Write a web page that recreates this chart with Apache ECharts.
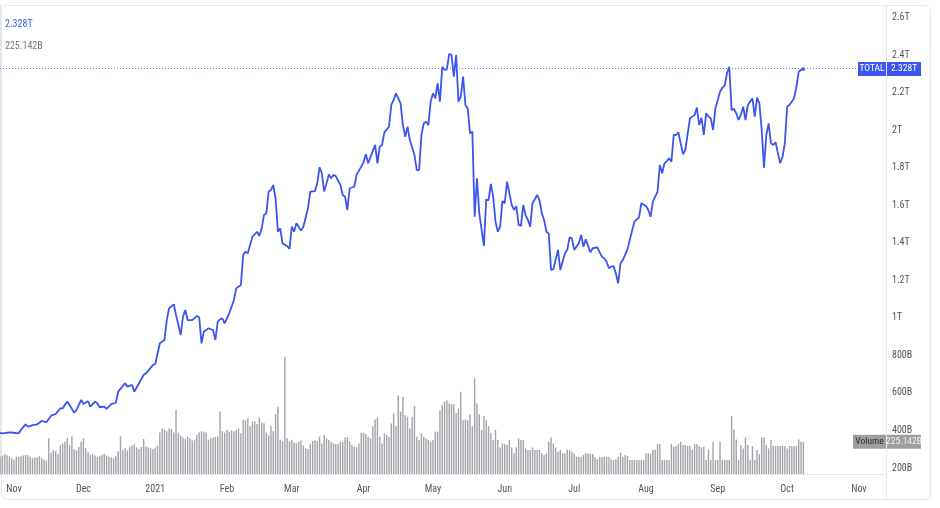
<!DOCTYPE html>
<html><head><meta charset="utf-8">
<script src="https://cdn.jsdelivr.net/npm/echarts@6/dist/echarts.min.js"></script>
<style>html,body{margin:0;padding:0;background:#fff}#c{width:940px;height:508px}</style>
</head><body><div id="c"></div>
<script>
// ---------- data ----------
const START = '2020-10-26';           // day 0 of the series
const seriesName = 'TOTAL';
const volumeName = 'Volume';
// TOTAL market cap (trillions USD), sampled at day offsets from START
const lineDay = [0,1,4,6,8,9,11,12,14,16,18,20,22,24,26,27,29,30,32,33,35,36,38,39,41,42,43,45,46,48,50,51,54,55,57,58,60,62,63,66,67,69,71,72,73,75,76,78,79,80,81,83,85,86,87,88,90,92,93,94,95,96,97,99,101,102,104,105,106,107,109,111,112,113,114,115,116,117,118,119,120,121,122,124,125,126,127,128,130,131,133,134,136,137,138,139,140,141,142,143,144,145,147,148,149,150,151,153,154,156,157,158,159,161,162,163,164,165,166,168,169,170,171,173,174,175,176,177,179,180,181,182,183,184,185,186,187,188,189,190,191,192,193,194,195,196,197,198,199,200,201,202,203,204,205,206,207,209,210,211,212,213,214,215,216,217,218,219,221,222,223,224,225,226,227,228,229,230,232,233,234,235,236,237,238,239,241,242,244,245,246,247,248,250,251,252,253,255,256,258,259,260,261,262,263,264,265,266,267,268,269,271,272,274,276,277,279,280,281,282,284,285,286,287,288,289,290,291,292,293,294,295,296,298,299,300,301,302,303,304,305,306,307,308,309,311,312,313,314,315,316,317,318,319,320,321,322,323,324,325,326,327,328,329,330,331,332,333,334,335,336,337,338,339,340,341,343,344,345,346,347];
const lineVal = [0.388,0.385,0.390,0.388,0.385,0.403,0.433,0.420,0.429,0.433,0.451,0.444,0.479,0.488,0.518,0.518,0.554,0.536,0.495,0.509,0.563,0.541,0.556,0.527,0.554,0.545,0.524,0.527,0.515,0.541,0.548,0.607,0.652,0.634,0.643,0.607,0.652,0.696,0.705,0.749,0.755,0.865,0.883,0.989,1.052,1.073,1.016,0.909,1.007,1.043,0.989,0.989,1.011,1.004,0.865,0.927,0.945,0.936,0.883,0.980,0.993,0.998,0.972,1.025,1.096,1.158,1.176,1.336,1.354,1.345,1.434,1.460,1.437,1.478,1.549,1.558,1.674,1.683,1.709,1.638,1.460,1.478,1.398,1.384,1.368,1.487,1.460,1.505,1.466,1.487,1.585,1.674,1.677,1.718,1.804,1.772,1.674,1.718,1.766,1.745,1.763,1.757,1.709,1.656,1.647,1.576,1.692,1.700,1.763,1.807,1.830,1.873,1.825,1.891,1.923,1.825,1.914,1.923,1.990,2.020,2.136,2.163,2.198,2.145,2.029,1.967,2.020,1.949,1.869,1.789,1.789,1.976,2.038,2.047,2.029,2.154,2.198,2.172,2.252,2.154,2.340,2.323,2.326,2.408,2.403,2.287,2.403,2.154,2.180,2.287,2.136,2.118,1.985,1.994,1.540,1.745,1.558,1.384,1.633,1.629,1.715,1.647,1.514,1.460,1.487,1.624,1.612,1.727,1.603,1.576,1.597,1.496,1.491,1.603,1.549,1.523,1.487,1.612,1.656,1.629,1.558,1.523,1.460,1.452,1.256,1.260,1.363,1.256,1.345,1.363,1.430,1.425,1.363,1.398,1.443,1.380,1.420,1.350,1.372,1.377,1.350,1.327,1.318,1.300,1.265,1.274,1.277,1.238,1.185,1.292,1.309,1.366,1.416,1.514,1.537,1.612,1.597,1.576,1.540,1.620,1.674,1.816,1.772,1.825,1.837,1.852,1.834,1.976,1.976,1.990,1.932,1.873,1.896,2.065,2.074,2.083,2.122,2.029,2.068,1.976,2.092,2.074,2.065,2.003,2.118,2.207,2.228,2.239,2.305,2.340,2.109,2.115,2.092,2.056,2.083,2.127,2.056,2.136,2.154,2.172,2.074,2.175,2.145,2.003,1.802,1.976,2.038,1.932,1.923,1.937,1.878,1.825,1.860,1.932,2.127,2.136,2.172,2.234,2.314,2.323,2.328];
// daily volume (billions USD), one per day from START
const volume = [120,128,140,132,122,112,100,118,120,125,130,
135,132,120,110,115,118,125,110,100,95,
250,150,168,160,140,
200,215,225,255,200,265,
175,165,190,225,250,180,
150,135,140,130,120,125,135,140,130,120,115,110,125,
160,265,170,180,165,190,200,210,185,175,190,
245,190,185,180,175,185,200,
290,320,310,300,320,315,290,
450,290,270,255,245,260,250,235,240,275,290,
300,295,290,240,250,255,260,262,
440,300,290,310,295,305,300,310,320,285,
380,375,390,335,365,370,350,395,
360,355,290,270,335,300,420,
470,240,230,820,250,230,240,220,215,225,235,
200,180,175,210,230,235,230,
261,214,273,249,238,226,214,210,210,226,
226,256,256,226,203,191,186,214,289,289,
280,261,249,335,382,396,261,214,284,273,
261,354,424,335,552,436,540,412,401,319,
401,475,261,238,284,261,249,238,226,238,
296,296,447,482,506,517,494,489,489,429,
459,576,377,382,377,419,335,669,494,419,
308,405,377,335,289,238,308,238,186,214,
210,203,238,186,145,186,249,238,238,179,
168,168,186,168,168,168,145,133,145,226,
256,214,186,156,168,145,145,172,168,156,
145,121,
121,121,133,145,145,140,140,117,103,121,
117,121,121,121,103,98,103,121,149,121,
133,126,98,98,98,98,98,98,98,145,
145,140,168,172,210,210,98,98,98,98,
210,191,196,210,226,203,203,196,196,168,
210,210,196,186,191,98,168,98,226,98,
98,226,98,98,98,98,405,312,242,98,
203,179,256,203,98,196,98,168,140,256,
256,203,179,238,196,196,196,196,196,196,
179,196,196,196,196,242,226,225.142];
const yTicks = [0.2,0.4,0.6,0.8,1.0,1.2,1.4,1.6,1.8,2.0,2.2,2.4,2.6];
const monthTicks = ['2020-11-01','2020-12-01','2021-01-01','2021-02-01','2021-03-01','2021-04-01','2021-05-01','2021-06-01','2021-07-01','2021-08-01','2021-09-01','2021-10-01','2021-11-01'];
const monthNames = ['Jan','Feb','Mar','Apr','May','Jun','Jul','Aug','Sep','Oct','Nov','Dec'];

// ---------- chart ----------
const DAY = 86400000;
const t0 = Date.parse(START + 'T00:00:00Z');
const toDay = s => Math.round((Date.parse(s + 'T00:00:00Z') - t0) / DAY);
const lineData = lineDay.map((d, k) => [d, lineVal[k]]);
const volData = volume.map((v, k) => [k, v]);
const lastVal = lineVal[lineVal.length - 1];
const lastVol = volume[volume.length - 1];
const lastDay = lineDay[lineDay.length - 1];
const FONT = "'Liberation Sans Narrow','Roboto Condensed','Liberation Sans',sans-serif";
const BLUE = '#3b55ee';

function fmtT(v) {
  if (v >= 1) return (Math.round(v * 1000) / 1000).toString() + 'T';
  return Math.round(v * 1000) + 'B';
}
function fmtDay(d) {
  const dt = new Date(t0 + Math.round(d) * DAY);
  return dt.getUTCMonth() === 0 ? String(dt.getUTCFullYear()) : monthNames[dt.getUTCMonth()];
}

const chart = echarts.init(document.getElementById('c'), null, {renderer: 'canvas'});
chart.setOption({
  animation: false,
  backgroundColor: '#ffffff',
  grid: {left: 0, right: 54, top: 5, bottom: 33, containLabel: false},
  xAxis: {
    type: 'value',
    min: -0.05,
    max: 382.7,
    axisLine: {show: true, lineStyle: {color: '#e3e5ea', width: 1}},
    axisTick: {show: false},
    splitLine: {show: false},
    axisLabel: {
      customValues: monthTicks.map(toDay),
      formatter: fmtDay,
      color: '#555', fontSize: 10, fontFamily: FONT, margin: 9
    }
  },
  yAxis: [{
    type: 'value', position: 'right',
    min: 0.16267, max: 2.6693,
    axisLine: {show: true, lineStyle: {color: '#e3e5ea'}},
    axisTick: {show: false},
    splitLine: {show: false},
    axisLabel: {
      customValues: yTicks, formatter: fmtT,
      color: '#555', fontSize: 10, fontFamily: FONT, margin: 6
    }
  }, {
    type: 'value', min: -7, max: 3283, show: false
  }],
  series: [{
    type: 'bar', name: volumeName, yAxisIndex: 1, data: volData,
    barWidth: 1.4, itemStyle: {color: '#a2a3a9'}, z: 1, silent: true
  }, {
    type: 'line', name: seriesName, yAxisIndex: 0, data: lineData,
    showSymbol: false, smooth: false,
    lineStyle: {color: BLUE, width: 1.8}, z: 3, silent: true,
    markLine: {
      silent: true, symbol: 'none', label: {show: false},
      lineStyle: {type: [1, 2], color: '#5f7cf2', width: 1},
      data: [{yAxis: lastVal}]
    }
  }, {
    type: 'scatter', yAxisIndex: 0, data: [[lastDay, lastVal]],
    symbolSize: 4, itemStyle: {color: BLUE}, z: 4, silent: true
  }]
});

const yL = chart.convertToPixel({yAxisIndex: 0}, lastVal);
const yV = chart.convertToPixel({yAxisIndex: 1}, lastVol);
const txt = (x, y, s, color, align, size) => ({
  type: 'text', x: x, y: y, z: 100,
  style: {text: s, fill: color, fontSize: size || 10, fontFamily: FONT, align: align || 'left', verticalAlign: 'middle'}
});
chart.setOption({
  graphic: [
    {type: 'rect', z: 0, shape: {x: 1.5, y: 5.5, width: 929, height: 494, r: 6},
     style: {fill: 'none', stroke: '#e6e8ec', lineWidth: 1}},
    {type: 'line', z: 0, shape: {x1: 886.5, y1: 5.5, x2: 886.5, y2: 499.5}, style: {stroke: '#e6e8ec', lineWidth: 1}},
    {type: 'rect', z: 99, shape: {x: 858, y: yL - 7, width: 28, height: 14}, style: {fill: BLUE}},
    {type: 'rect', z: 99, shape: {x: 887, y: yL - 7, width: 34, height: 14}, style: {fill: BLUE}},
    txt(872, yL, seriesName, '#ffffff', 'center', 9.5),
    txt(904, yL, fmtT(lastVal), '#ffffff', 'center', 9.5),
    {type: 'rect', z: 99, shape: {x: 853, y: yV - 7, width: 33, height: 14}, style: {fill: '#9e9e9e'}},
    {type: 'rect', z: 99, shape: {x: 887, y: yV - 7, width: 34, height: 14}, style: {fill: '#9e9e9e'}},
    txt(869.5, yV, volumeName, '#2e2e2e', 'center', 9.5),
    txt(904, yV, lastVol + 'B', '#f4f4f4', 'center', 9.5),
    txt(5, 24.5, fmtT(lastVal), BLUE, 'left', 10),
    txt(5, 46.5, lastVol + 'B', '#777777', 'left', 10)
  ]
});
</script>
</body></html>
